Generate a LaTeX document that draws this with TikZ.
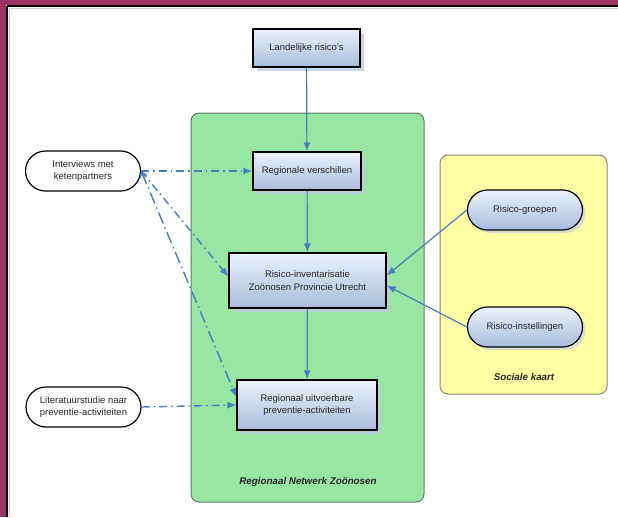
\documentclass[tikz,border=0pt]{standalone}
\usepackage{fontspec}
\setmainfont{Liberation Sans}
\usetikzlibrary{positioning}
\usetikzlibrary{shapes.misc,shadows,arrows.meta}

\definecolor{framered}{RGB}{156,52,98}
\definecolor{netgreen}{RGB}{152,230,162}
\definecolor{netedge}{RGB}{95,125,100}
\definecolor{mapyellow}{RGB}{255,255,165}
\definecolor{mapedge}{RGB}{135,135,115}
\definecolor{boxlight}{RGB}{236,242,250}
\definecolor{boxdark}{RGB}{168,188,220}
\definecolor{boxshadow}{RGB}{190,204,226}
\definecolor{linkblue}{RGB}{72,126,190}
\definecolor{txtgray}{RGB}{40,40,40}

\tikzset{
  txt/.style={font=\fontsize{9.5}{12.8}\selectfont, text=txtgray},
  stepbox/.style={txt, draw=black, line width=1.3pt, top color=boxlight, bottom color=boxdark,
    inner sep=0pt, align=center, drop shadow={shadow xshift=4pt, shadow yshift=-4pt, fill=boxshadow, opacity=0.8}},
  pill/.style={txt, rounded rectangle, draw=black, line width=1.2pt, inner sep=0pt, align=center,
    minimum width=115pt, minimum height=40pt},
  bluepill/.style={pill, top color=boxlight, bottom color=boxdark,
    drop shadow={shadow xshift=3pt, shadow yshift=-3pt, fill=boxshadow, opacity=0.6}},
  regiontitle/.style={font=\fontsize{9.8}{12}\selectfont\bfseries\itshape, text=black!85},
  solidlink/.style={draw=linkblue, line width=1.2pt, -{Latex[length=9pt,width=7pt]}},
  dotlink/.style={draw=linkblue, line width=1.4pt, dash pattern=on 8pt off 4pt on 1.5pt off 4pt,
    -{Latex[length=9pt,width=7pt]}},
}

\begin{document}
\begin{tikzpicture}[x=1pt,y=-1pt]
\useasboundingbox (0,0) rectangle (618,517);
% frame
\fill[white] (0,0) rectangle (618,517);
\fill[framered] (0,0) rectangle (618,4.5);
\fill[framered] (0,0) rectangle (6,517);
\draw[line width=2pt] (7,5.5) -- (618,5.5);
\draw[line width=2pt] (7,5.5) -- (7,517);
\draw[gray!40, line width=0.6pt] (9,8) -- (618,8);
\draw[gray!40, line width=0.6pt] (9,8) -- (9,517);
% regions
\node[draw=netedge, line width=1pt, fill=netgreen, rounded corners=8pt, minimum width=233pt, minimum height=389pt] (net) at (307.5,307.5) {};
\node[draw=mapedge, line width=1pt, fill=mapyellow, rounded corners=8pt, minimum width=167pt, minimum height=239pt] (kaart) at (523.5,274.5) {};
\node[regiontitle] (nettitle) at (308,482) {Regionaal Netwerk Zoönosen};
\node[regiontitle] (kaarttitle) at (524,377) {Sociale kaart};
% steps
\node[stepbox, minimum width=107pt, minimum height=38pt] (land) at (306.5,48) {Landelijke risico's};
\node[stepbox, minimum width=108pt, minimum height=38pt] (regver) at (307,171) {Regionale verschillen};
\node[stepbox, minimum width=157pt, minimum height=55pt] (risinv) at (307.5,280.5) {Risico-inventarisatie\\Zoönosen Provincie Utrecht};
\node[stepbox, minimum width=140pt, minimum height=50pt] (reguit) at (307,405) {Regionaal uitvoerbare\\preventie-activiteiten};
% sources
\node[pill, fill=white] (interv) at (83,171) {Interviews met\\ketenpartners};
\node[pill, fill=white] (lit) at (83.5,407) {Literatuurstudie naar\\preventie-activiteiten};
\node[bluepill] (risgr) at (525,210) {Risico-groepen};
\node[bluepill] (risinst) at (525,327) {Risico-instellingen};
% links
\draw[solidlink] (land) -- (regver);
\draw[solidlink] (regver) -- (risinv);
\draw[solidlink] (risinv) -- (reguit);
\draw[solidlink] (risgr.west) -- ([yshift=5pt]risinv.east);
\draw[solidlink] (risinst.west) -- ([yshift=-5pt]risinv.east);
\draw[dotlink] (interv.east) -- (regver.west);
\draw[dotlink] (interv.east) -- ([yshift=4pt]risinv.west);
\draw[dotlink, dash pattern=on 12pt off 4pt on 1.5pt off 4pt, {Straight Barb[length=5pt,width=7pt]}-{Latex[length=9pt,width=7pt]}] (interv.east) -- ([yshift=8pt]reguit.west);
\draw[dotlink] (lit.east) -- (reguit.west);
\end{tikzpicture}
\end{document}
